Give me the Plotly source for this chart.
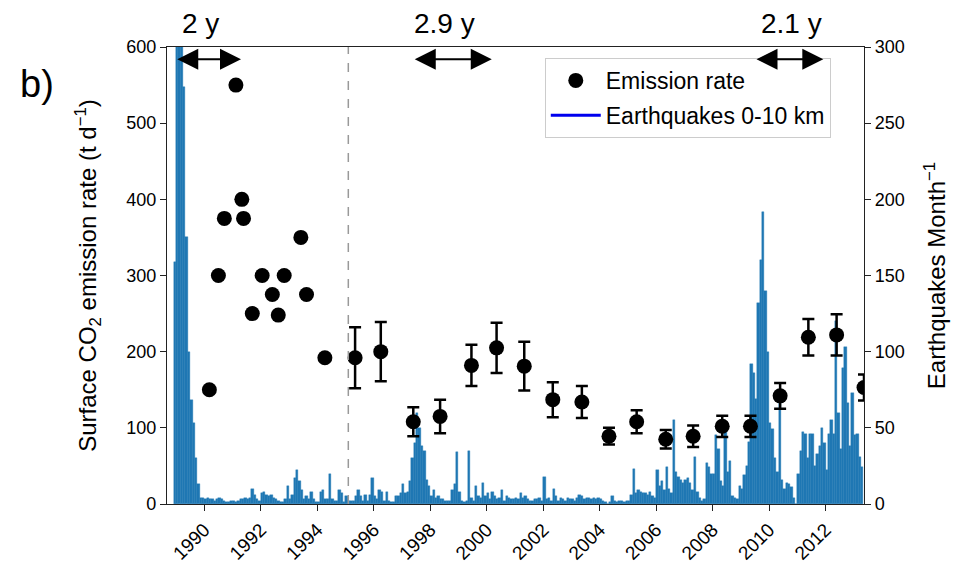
import plotly.graph_objects as go

# Monthly counts of earthquakes at 0-10 km depth, starting December 1988
quake_start_year = 1988
quake_start_month = 12
quake_counts = [
    159,                                                     # 1988 (Dec)
    420, 370, 330, 274, 175, 100, 68, 53, 30, 13, 4, 4,      # 1989
    3, 4, 3, 3, 2, 3, 4, 3, 2, 1, 1, 2,                      # 1990
    2, 1, 2, 3, 3, 4, 3, 4, 10, 6, 3, 2,                     # 1991
    7, 8, 6, 5, 6, 4, 3, 2, 1, 1, 3, 12,                     # 1992
    3, 6, 17, 22, 15, 9, 3, 5, 3, 8, 3, 1,                   # 1993
    1, 8, 9, 3, 3, 20, 3, 2, 2, 9, 7, 1,                     # 1994
    5, 2, 2, 2, 5, 9, 5, 2, 6, 2, 6, 17,                     # 1995
    5, 3, 9, 8, 2, 8, 2, 1, 1, 5, 5, 7,                      # 1996
    13, 7, 8, 15, 30, 40, 60, 50, 38, 35, 16, 12,            # 1997
    5, 9, 4, 5, 3, 3, 2, 2, 2, 9, 13, 34,                    # 1998
    8, 2, 1, 2, 35, 4, 2, 12, 5, 4, 14, 5,                   # 1999
    7, 3, 8, 5, 3, 4, 9, 2, 5, 4, 3, 3,                      # 2000
    4, 3, 7, 4, 5, 3, 2, 2, 3, 3, 4, 2,                      # 2001
    18, 3, 4, 2, 10, 5, 2, 4, 3, 2, 4, 3,                    # 2002
    3, 2, 4, 6, 5, 3, 4, 4, 3, 4, 3, 4,                      # 2003
    3, 2, 1, 0, 1, 5, 2, 1, 2, 2, 1, 2,                      # 2004
    2, 6, 23, 7, 9, 8, 7, 7, 6, 8, 5, 4,                     # 2005
    22, 12, 15, 9, 24, 10, 7, 55, 21, 18, 16, 14,            # 2006
    16, 17, 14, 9, 31, 8, 4, 2, 3, 27, 24, 20,               # 2007
    20, 45, 36, 15, 12, 51, 21, 28, 5, 4, 3, 12,             # 2008
    10, 19, 25, 41, 92, 86, 69, 132, 160, 192, 140, 100,     # 2009
    53, 49, 30, 21, 70, 16, 10, 14, 13, 11, 4, 0,            # 2010
    20, 35, 47, 46, 30, 46, 46, 25, 33, 38, 50, 40,          # 2011
    22, 46, 55, 46, 120, 60, 36, 89, 103, 66, 38, 73,        # 2012
    45, 46, 31, 24,                                          # 2013
]

# Surface CO2 emission-rate surveys without uncertainty estimates (t/d)
early_years = [1990.18, 1990.50, 1990.71, 1991.12, 1991.33, 1991.39, 1991.70,
               1992.05, 1992.41, 1992.62, 1992.83, 1993.42, 1993.62, 1994.27]
early_rates = [150, 300, 375, 550, 400, 375, 250, 300, 275, 248, 300, 350, 275, 192]

# Later surveys with uncertainty estimates (t/d)
survey_years = [1995.34, 1996.25, 1997.40, 1998.35, 1999.46, 2000.35, 2001.33,
                2002.34, 2003.37, 2004.33, 2005.31, 2006.34, 2007.31, 2008.34,
                2009.34, 2010.39, 2011.39, 2012.39, 2013.36]
survey_rates = [192, 200, 108, 115, 182, 205, 181, 137, 134, 89, 108, 85, 89,
                102, 102, 142, 219, 222, 153]
survey_errors = [40, 39, 19, 22, 27, 33, 32, 23, 21, 11, 15, 12, 14, 14, 14,
                 17, 24, 27, 17]

# Axis ticks
x_tick_years = [1990, 1992, 1994, 1996, 1998, 2000, 2002, 2004, 2006, 2008, 2010, 2012]
x_tick_labels = [str(y) for y in x_tick_years]
rate_ticks = [0, 100, 200, 300, 400, 500, 600]
quake_ticks = [0, 50, 100, 150, 200, 250, 300]

# Lag intervals marked above the plot
period_starts = [1988.99, 1997.40, 2009.50]
period_ends = [1991.30, 2000.18, 2011.92]
period_labels = ["2 y", "2.9 y", "2.1 y"]
period_label_years = [1989.85, 1998.52, 2010.80]

reference_year = 1995.1

FONT = "Liberation Sans, Arial, sans-serif"
BAR_BLUE = "#1f77b4"

quake_x = [quake_start_year + (quake_start_month - 1 + i + 0.5) / 12
           for i in range(len(quake_counts))]

fig = go.Figure()

fig.add_trace(go.Bar(
    x=quake_x, y=quake_counts, width=1 / 12,
    marker=dict(color=BAR_BLUE, line=dict(width=0.4, color=BAR_BLUE)),
    yaxis="y", showlegend=False, hoverinfo="x+y",
))

fig.add_trace(go.Scatter(
    x=early_years, y=early_rates, mode="markers",
    marker=dict(color="black", size=15),
    yaxis="y2", showlegend=False, legendgroup="rate",
))

fig.add_trace(go.Scatter(
    x=survey_years, y=survey_rates, mode="markers",
    marker=dict(color="black", size=15),
    error_y=dict(type="data", array=survey_errors, color="black",
                 thickness=2.5, width=6),
    yaxis="y2", name="Emission rate", legendgroup="rate",
))

# legend entry for the earthquake histogram
fig.add_trace(go.Scatter(
    x=[None], y=[None], mode="lines",
    line=dict(color="#0000ee", width=3),
    yaxis="y2", name="Earthquakes 0-10 km", legendgroup="quakes",
))

annotations = []
for s, e in zip(period_starts, period_ends):
    annotations.append(dict(
        x=e, y=584, ax=s, ay=584, xref="x", yref="y2", axref="x", ayref="y2",
        text="", showarrow=True, arrowside="end+start",
        arrowhead=2, startarrowhead=2, arrowsize=2.1, startarrowsize=2.1,
        arrowwidth=2, arrowcolor="black", standoff=0, startstandoff=0,
    ))
for lx, lab in zip(period_label_years, period_labels):
    annotations.append(dict(
        x=lx, y=1.052, xref="x", yref="paper", text=lab, showarrow=False,
        font=dict(size=28, color="black", family=FONT),
        xanchor="center", yanchor="middle",
    ))
annotations.append(dict(
    x=-0.187, y=0.92, xref="paper", yref="paper", text="b)", showarrow=False,
    font=dict(size=38, color="black", family=FONT),
    xanchor="center", yanchor="middle",
))

fig.update_layout(
    width=966, height=564,
    margin=dict(l=167, r=102, t=47, b=60),
    paper_bgcolor="white", plot_bgcolor="white",
    font=dict(family=FONT, size=18, color="black"),
    bargap=0,
    xaxis=dict(
        range=[1988.68, 2013.36], automargin=False,
        tickmode="array", tickvals=x_tick_years, ticktext=x_tick_labels,
        tickangle=-45, ticks="outside", ticklen=6, tickcolor="#222",
        showline=True, linecolor="#222", linewidth=1.3, mirror=True,
        showgrid=False, zeroline=False, tickfont=dict(size=19),
    ),
    yaxis=dict(
        range=[0, 300], side="right", automargin=False,
        tickmode="array", tickvals=quake_ticks,
        ticks="outside", ticklen=6, tickcolor="#222",
        showline=True, linecolor="#222", linewidth=1.3,
        showgrid=False, zeroline=False, tickfont=dict(size=18),
        title=dict(text="Earthquakes Month<sup>−1</sup>",
                   font=dict(size=24), standoff=24),
    ),
    yaxis2=dict(
        range=[0, 600], side="left", overlaying="y", automargin=False,
        tickmode="array", tickvals=rate_ticks,
        ticks="outside", ticklen=6, tickcolor="#222",
        showline=True, linecolor="#222", linewidth=1.3,
        showgrid=False, zeroline=False, tickfont=dict(size=18),
        title=dict(text="Surface CO<sub>2</sub> emission rate (t d<sup>−1</sup>)",
                   font=dict(size=24), standoff=22),
    ),
    legend=dict(
        x=0.542, y=0.976, xanchor="left", yanchor="top",
        bgcolor="rgba(255,255,255,0.85)", bordercolor="#cccccc", borderwidth=1,
        font=dict(size=23, family=FONT), itemwidth=50,
        traceorder="grouped", tracegroupgap=2,
    ),
    shapes=[dict(
        type="line", x0=reference_year, x1=reference_year, y0=0, y1=1,
        xref="x", yref="paper", layer="above",
        line=dict(color="#999999", width=1.5, dash="dash"),
    )],
    annotations=annotations,
)

fig.write_html("out.html")
